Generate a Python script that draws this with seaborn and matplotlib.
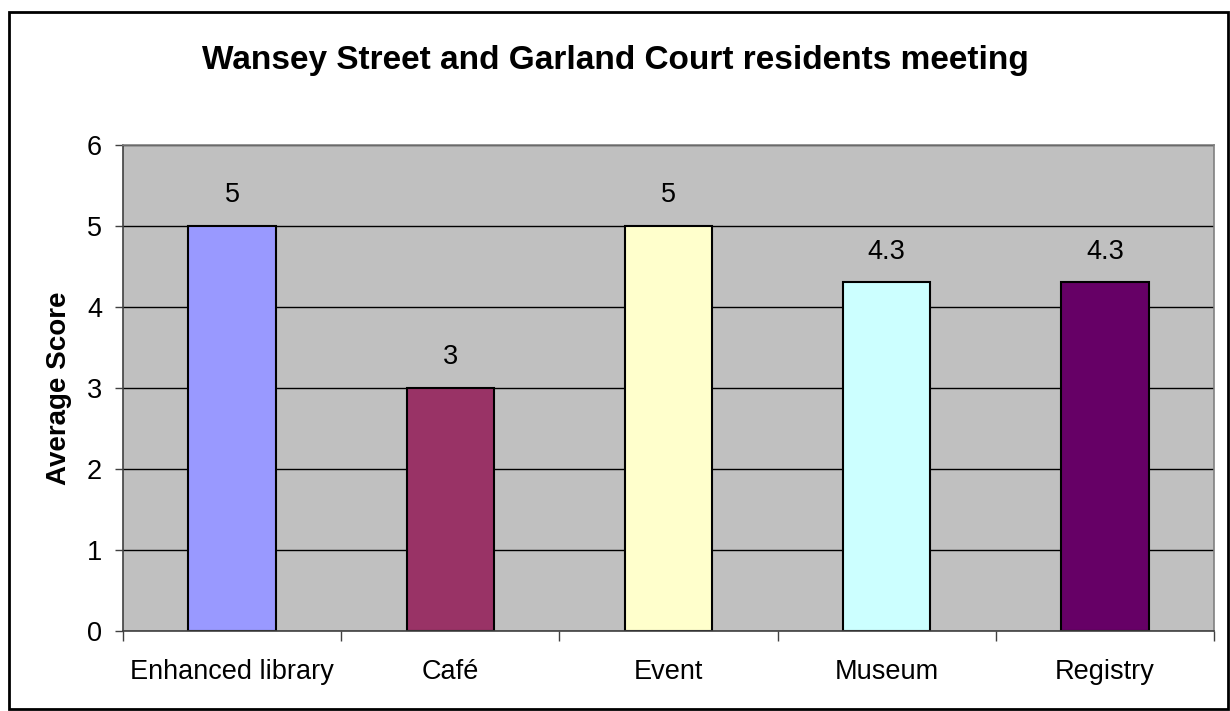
import matplotlib
matplotlib.use("Agg")
import matplotlib.pyplot as plt
import seaborn as sns
import pandas as pd
from matplotlib.patches import Rectangle

categories = ["Enhanced library", "Café", "Event", "Museum", "Registry"]
scores = [5, 3, 5, 4.3, 4.3]
value_labels = ["5", "3", "5", "4.3", "4.3"]
bar_colors = ["#9999FF", "#993366", "#FFFFCC", "#CCFFFF", "#660066"]
yticks = [0, 1, 2, 3, 4, 5, 6]

sns.set_style("white")
plt.rcParams['font.family'] = ['Liberation Sans', 'DejaVu Sans']
plt.rcParams['text.color'] = 'black'
plt.rcParams['axes.labelcolor'] = 'black'
plt.rcParams['xtick.color'] = 'black'
plt.rcParams['ytick.color'] = 'black'

df = pd.DataFrame({"category": categories, "score": scores})

fig = plt.figure(figsize=(12.3, 7.11), dpi=100)
ax = fig.add_axes([0.1, 0.1125, 0.887, 0.684])
ax.set_facecolor("#C0C0C0")
ax.set_axisbelow(True)
ax.yaxis.grid(True, color="black", linewidth=1)
ax.xaxis.grid(False)

sns.barplot(data=df, x="category", y="score", hue="category", palette=bar_colors,
            width=0.4, edgecolor="black", linewidth=1.5, legend=False, ax=ax, saturation=1)

for i, (v, lab) in enumerate(zip(scores, value_labels)):
    ax.annotate(lab, (i, v), xytext=(0, 22), textcoords="offset points",
                ha="center", va="center", fontsize=19.5, color="black")

ax.set_ylim(0, 6)
ax.set_xlim(-0.5, len(categories) - 0.5)
ax.set_yticks(yticks)
ax.set_yticklabels([str(t) for t in yticks], fontsize=19.5)
ax.tick_params(axis="y", length=6, width=1, color="#404040", direction="out", pad=9, left=True)
# x ticks at category boundaries
ax.set_xticks(range(len(categories)))
ax.set_xticklabels(categories, fontsize=19.5)
ax.tick_params(axis="x", length=0, pad=20)
ax.set_xticks([i - 0.5 for i in range(len(categories) + 1)], minor=True)
ax.tick_params(axis="x", which="minor", length=7, width=1, color="#404040", direction="out", bottom=True)

ax.set_xlabel("")
ax.set_ylabel("Average Score", fontsize=20, fontweight="bold", labelpad=11)

for side in ["left", "bottom"]:
    ax.spines[side].set_color("#404040")
    ax.spines[side].set_linewidth(1.2)
for side in ["top", "right"]:
    ax.spines[side].set_color("#808080")
    ax.spines[side].set_linewidth(1.2)

fig.text(0.5, 0.915, "Wansey Street and Garland Court residents meeting",
         ha="center", va="center", fontsize=24, fontweight="bold")

fig.patches.append(Rectangle((9 / 1230, 2 / 711), 1219 / 1230, 697 / 711,
                             transform=fig.transFigure, fill=False,
                             edgecolor="black", linewidth=2))

fig.savefig("out.png", dpi=100)
